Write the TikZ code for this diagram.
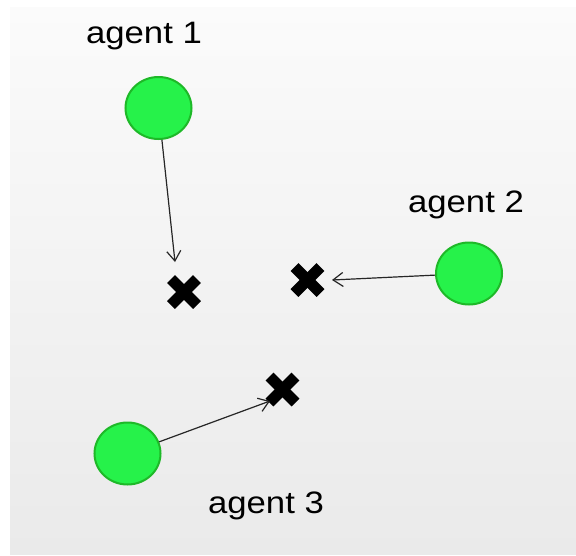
\documentclass[tikz,border=0pt]{standalone}
\usepackage{fontspec}
\setmainfont{Liberation Sans}[FakeStretch=1.12]
\usetikzlibrary{arrows.meta,shapes.geometric}
\definecolor{agentfill}{RGB}{38,242,74}
\definecolor{agentdraw}{RGB}{30,185,40}
\definecolor{bgtop}{RGB}{251,251,251}
\definecolor{bgbot}{RGB}{234,234,234}
\tikzset{
  agent/.style={ellipse, fill=agentfill, draw=agentdraw, line width=2pt, minimum width=66pt, minimum height=62pt, inner sep=0pt},
  lbl/.style={anchor=base, inner sep=0pt, font=\fontsize{31pt}{35pt}\selectfont},
  arr/.style={draw=black!85, line width=1.2pt, -{Straight Barb[length=10pt,width=14pt,line width=1.2pt]}},
  crossline/.style={line width=11pt, line cap=butt}
}
\begin{document}
\begin{tikzpicture}[x=1pt,y=-1pt]
\useasboundingbox (0,0) rectangle (576,555);
\shade[top color=bgtop, bottom color=bgbot] (10,7) rectangle (576,554);

\node[lbl] (l1) at (144,43) {agent 1};
\node[lbl] (l2) at (466,212) {agent 2};
\node[lbl] (l3) at (266,513) {agent 3};

\node[agent] (a1) at (158.5,108) {};
\node[agent] (a2) at (469,273.5) {};
\node[agent] (a3) at (127.5,453.5) {};

\coordinate (c1) at (184,292);
\coordinate (c2) at (307.5,280);
\coordinate (c3) at (282.5,389.5);
\foreach \c in {c1,c2,c3}{
  \draw[crossline] (\c) ++(-13,-13) -- ++(26,26);
  \draw[crossline] (\c) ++(-13,13) -- ++(26,-26);
}

\coordinate (t1) at (175,262);
\coordinate (t2) at (332,280);
\coordinate (t3) at (270,401);
\draw[arr] (a1) -- (t1);
\draw[arr] (a2) -- (t2);
\draw[arr] (a3) -- (t3);
\end{tikzpicture}
\end{document}
